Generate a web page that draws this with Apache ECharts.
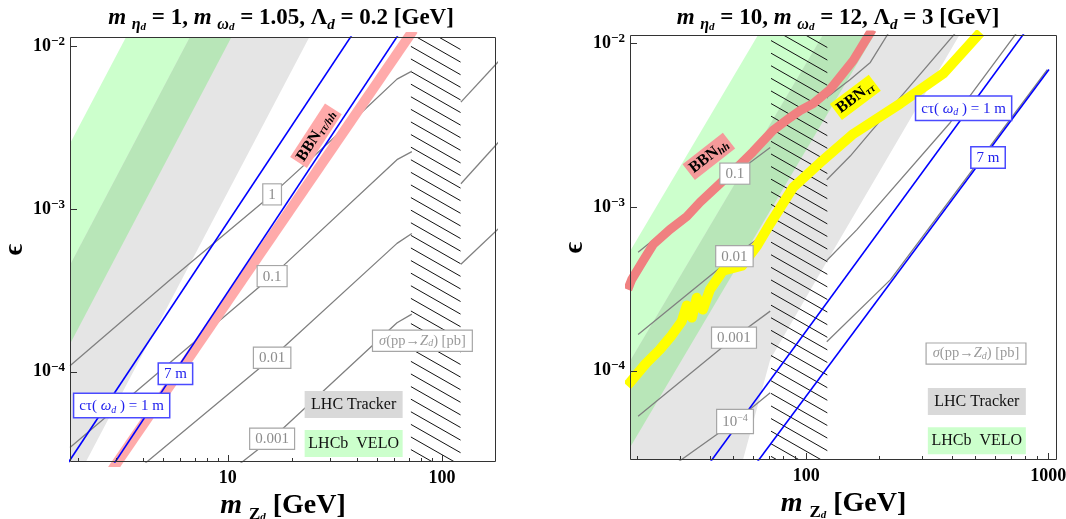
<!DOCTYPE html>
<html><head><meta charset="utf-8">
<script src="https://cdn.jsdelivr.net/npm/echarts@6/dist/echarts.min.js"></script>
<style>html,body{margin:0;padding:0;background:#fff}#c{width:1066px;height:519px}</style>
</head><body><div id="c"></div>
<script>
// ================= DATA =================
// axis ticks
const xTicksMajorL = [10, 100];
const xTicksMinorL = [2,3,4,5,6,7,8,9,20,30,40,50,60,70,80,90];
const xTicksMajorR = [100, 1000];
const xTicksMinorR = [20,30,40,50,60,70,80,90,200,300,400,500,600,700,800,900];
const yTicksMajor = [1e-4, 1e-3, 1e-2];

// Left panel (m_eta=1, m_omega=1.05, Lambda=0.2): band edges [m_Zd, eps]
const veloLeftL    = [[0.200,1e-5],[7.98,0.1]];
const veloRightL   = [[0.622,1e-5],[24.8,0.1]];
const trackerLeftL = [[0.398,1e-5],[15.85,0.1]];
const trackerRightL= [[1.439,1e-5],[57.3,0.1]];
// Right panel (m_eta=10, m_omega=12, Lambda=3)
const veloLeftR    = [[3.80,1e-5],[151.4,0.1]];
const veloRightR   = [[11.48,1e-5],[457,0.1]];
const trackerLeftR = [[7.05,1e-5],[280.5,0.1]];
const trackerRightR= [[50.8,2.16e-5],[54.5,2.77e-5],[71.0,1.17e-4],[121,4.58e-4],[1019,0.1]];
// Z-pole excluded window (hatched)
const zPoleWindow = [71.5, 122.5];

// sigma(pp->Zd) contours [pb]; null = gap across Z window
const sig1L    = [[1.83,1.09e-4],[5.36,3.66e-4],[16.1,1.23e-3],[41.4,3.84e-3],[61.7,6.28e-3],[72.4,7.03e-3],null,[122.7,4.54e-3],[187,8.26e-3]];
const sig01L   = [[1.83,3.43e-5],[16.1,3.87e-4],[61.7,2.01e-3],[72.4,2.25e-3],null,[122.7,1.43e-3],[187,2.64e-3]];
const sig001L  = [[3.75,2.48e-5],[16.1,1.22e-4],[61.7,6.15e-4],[72.4,7.08e-4],null,[122.7,4.58e-4],[187,7.74e-4]];
const sig0001L = [[10.4,2.48e-5],[16.1,3.89e-5],[61.7,2.0e-4],[72.4,2.26e-4]];
const sig01R   = [[20.2,5.30e-4],[50.8,1.60e-3],[71.0,2.31e-3],null,[121.6,4.68e-3],[152,6.03e-3],[184,7.66e-3],[222,1.2e-2]];
const sig001R  = [[20.2,1.66e-4],[50.8,5.05e-4],[71.0,7.28e-4],null,[121.6,1.47e-3],[152,2.05e-3],[184,2.86e-3],[426,1.22e-2]];
const sig0001R = [[20.2,5.25e-5],[50.3,1.59e-4],[71.0,2.31e-4],null,[121.6,4.71e-4],[162,7.28e-4],[394,3.29e-3],[759,1.22e-2]];
const sig1e4R  = [[20.2,1.85e-5],[50.8,4.88e-5],[71.0,7.31e-5],null,[121.6,1.50e-4],[223,3.60e-4],[991,6.93e-3]];

// c tau(omega_d) lines
const ctau1mL = [[1.71,2.51e-5],[39.4,1.26e-2]];
const ctau7mL = [[2.82,2.51e-5],[64.8,1.26e-2]];
const ctau1mR = [[38.3,2.51e-5],[830,1.26e-2]];
const ctau7mR = [[59.8,2.51e-5],[1007,6.93e-3]];

// BBN bounds
const bbnL  = [[2.87,2.48e-5],[73.6,1.26e-2]];
const bbnHH = [[18.3,3.13e-4],[19.0,3.60e-4],[21.1,4.65e-4],[23.3,5.90e-4],[27.3,7.28e-4],[32.1,8.75e-4],[36.4,1.07e-3],[44.0,1.39e-3],[53.3,1.82e-3],[60.3,2.18e-3],[72.9,2.94e-3],[85.9,3.53e-3],[94.4,3.89e-3],[106.9,4.30e-3],[125.6,5.24e-3],[156.4,7.87e-3],[187.5,1.22e-2]];
const bbnTT = [[18.2,8.09e-5],[18.7,8.45e-5],[21.7,1.10e-4],[24.8,1.34e-4],[27.8,1.64e-4],[30.6,2.0e-4],[32.1,2.50e-4],[33.7,2.11e-4],[35.3,2.79e-4],[37.4,2.36e-4],[40.0,3.13e-4],[45.3,4.09e-4],[54.3,4.38e-4],[62.7,5.82e-4],[71.0,7.93e-4],[88.3,1.32e-3],[114.3,1.87e-3],[155,2.77e-3],[245,4.30e-3],[369,6.56e-3],[525,1.17e-2]];

// annotation anchors [m_Zd, eps]
const contourLabelsL = [['1',[16.1,1.23e-3]],['0.1',[16.1,3.87e-4]],['0.01',[16.1,1.22e-4]],['0.001',[16.1,3.88e-5]]];
const contourLabelsR = [['0.1',[50.7,1.60e-3]],['0.01',[50.5,5.01e-4]],['0.001',[50.3,1.59e-4]],['1e-4',[50.8,4.88e-5]]];
const anchorsL = {ctau1:[3.19,6.2e-5], ctau7:[5.69,9.72e-5], sigma:[81.1,1.55e-4], tracker:[38.7,6.3e-5], velo:[38.7,3.63e-5], bbn:[25.8,2.82e-3]};
const anchorsR = {ctau1:[447,4.02e-3], ctau7:[564,2.01e-3], sigma:[503,1.27e-4], tracker:[507,6.48e-5], velo:[507,3.73e-5], bbnHH:[39.6,2.04e-3], bbnTT:[159.6,4.68e-3]};

// ================= STYLE / BUILD =================
const FONT = "'Liberation Serif','DejaVu Serif',serif";
const C_VELO = '#ccffcc', C_TRK = '#e5e5e5', C_OVL = '#b8e6b8';
const C_CONT = '#808080', C_BLUE = '#0000ff';

function isDecade(v){ const l = Math.log10(v); return Math.abs(l - Math.round(l)) < 1e-6; }

function xAxisOpt(gi, min, max){
  return {type:'log', logBase:10, gridIndex:gi, min, max,
    axisLine:{show:false}, axisTick:{show:false}, splitLine:{show:false},
    axisLabel:{margin:7, formatter: v => isDecade(v) ? String(Math.round(v)) : '',
      fontFamily:FONT, fontWeight:'bold', fontSize:18, color:'#000', hideOverlap:false},
    name:'{m|m }{z|Z}{d|d}{n| [GeV]}', nameLocation:'middle', nameGap:25,
    nameTextStyle:{fontFamily:FONT, color:'#000', rich:{
      m:{fontFamily:FONT, fontSize:28, fontWeight:'bold', fontStyle:'italic', lineHeight:34, color:'#000'},
      n:{fontFamily:FONT, fontSize:28, fontWeight:'bold', lineHeight:34, color:'#000'},
      z:{fontFamily:FONT, fontSize:17, fontWeight:'bold', lineHeight:16, verticalAlign:'bottom', color:'#000'},
      d:{fontFamily:FONT, fontSize:11, fontWeight:'bold', fontStyle:'italic', lineHeight:7, verticalAlign:'bottom', color:'#000'}
    }}};
}
function yAxisOpt(gi, min, max){
  return {type:'log', logBase:10, gridIndex:gi, min, max,
    axisLine:{show:false}, axisTick:{show:false}, splitLine:{show:false},
    axisLabel:{margin:5, formatter: v => isDecade(v) ? '{b|10}{s|\u2212' + (-Math.round(Math.log10(v))) + '}' : '',
      hideOverlap:false,
      rich:{ b:{fontFamily:FONT, fontWeight:'bold', fontSize:18, lineHeight:22, color:'#000'},
             s:{fontFamily:FONT, fontWeight:'bold', fontSize:13, lineHeight:10, verticalAlign:'top', color:'#000'} }},
    name:'\u03f5', nameLocation:'middle', nameRotate:90, nameGap:41,
    nameTextStyle:{fontFamily:FONT, fontSize:27, fontWeight:'bold', color:'#000'}};
}

function clipRect(cs){ return {type:'rect', shape:{x:cs.x, y:cs.y, width:cs.width, height:cs.height}}; }

function bandSeries(gi, leftEdge, rightEdge, color, z){
  return {type:'custom', xAxisIndex:gi, yAxisIndex:gi, z, silent:true, clip:true,
    data: leftEdge.concat(rightEdge),
    renderItem(params, api){
      if (params.dataIndex !== 0) return null;
      const pts = leftEdge.concat(rightEdge.slice().reverse()).map(p => api.coord(p));
      return {type:'polygon', shape:{points:pts}, style:{fill:color, stroke:null}, clipPath:clipRect(params.coordSys)};
    }};
}
function hatchSeries(gi){
  return {type:'custom', xAxisIndex:gi, yAxisIndex:gi, z:3, silent:true, data:[[zPoleWindow[0], 1e-3]],
    renderItem(params, api){
      const cs = params.coordSys;
      const xa = api.coord([zPoleWindow[0], 1e-3])[0], xb = api.coord([zPoleWindow[1], 1e-3])[0];
      const w = xb - xa, drop = w * 0.57, step = 12.6, kids = [];
      for (let y = cs.y - drop; y < cs.y + cs.height + step; y += step)
        kids.push({type:'line', shape:{x1:xa, y1:y, x2:xb, y2:y + drop}, style:{stroke:'#111', lineWidth:1}});
      return {type:'group', children:kids, clipPath:{type:'rect', shape:{x:xa, y:cs.y, width:w, height:cs.height}}};
    }};
}
function frameSeries(gi, xMaj, xMin){
  return {type:'custom', xAxisIndex:gi, yAxisIndex:gi, z:12, silent:true, data:[[xMaj[0], 1e-3]],
    renderItem(params, api){
      const cs = params.coordSys, b = cs.y + cs.height, kids = [];
      const seg = (x1,y1,x2,y2) => ({type:'line', shape:{x1,y1,x2,y2}, style:{stroke:'#333', lineWidth:1}});
      xMaj.forEach(v => { const x = Math.round(api.coord([v, 1e-3])[0]) + 0.5; kids.push(seg(x, b, x, b - 7)); });
      xMin.forEach(v => { const x = Math.round(api.coord([v, 1e-3])[0]) + 0.5; kids.push(seg(x, b, x, b - 4)); });
      yTicksMajor.forEach(v => { const y = Math.round(api.coord([xMaj[0], v])[1]) + 0.5; kids.push(seg(cs.x, y, cs.x + 7, y)); });
      kids.push({type:'rect', shape:{x:cs.x + 0.5, y:cs.y + 0.5, width:cs.width - 1, height:cs.height - 1},
        style:{fill:'none', stroke:'#333', lineWidth:1}});
      return {type:'group', children:kids};
    }};
}
function splitGaps(arr){
  const out = [[]];
  arr.forEach(p => { if (p === null) out.push([]); else out[out.length - 1].push(p); });
  return out.filter(s => s.length > 1);
}
function lineSeries(gi, data, color, width, z){
  return {type:'line', xAxisIndex:gi, yAxisIndex:gi, data, symbol:'none', silent:true, z, clip:true,
    lineStyle:{color, width, cap:'butt', join:'round'}};
}
function contourSeries(gi, arr){ return splitGaps(arr).map(s => lineSeries(gi, s, C_CONT, 1.3, 5)); }

// label presets (zrender text styles)
const gray = '#8c8c8c';
const R = (o) => Object.assign({fontFamily:FONT}, o);
const ST = {
  contour:{fill:gray, fontFamily:FONT, fontSize:15, backgroundColor:'#fff', borderColor:'#a6a6a6', borderWidth:1.2, padding:[3,5,2,5],
    rich:{ g:R({fill:gray, fontSize:15, lineHeight:18}), gs:R({fill:gray, fontSize:10, lineHeight:9, verticalAlign:'top'}) }},
  blue:{fill:'#2020ee', fontFamily:FONT, fontSize:15, backgroundColor:'#fff', borderColor:'#4a4aff', borderWidth:1.5, padding:[3,5,2,5],
    rich:{ t:R({fill:'#2020ee', fontSize:15, lineHeight:18}), i:R({fill:'#2020ee', fontSize:15, fontStyle:'italic', lineHeight:18}),
           sub:R({fill:'#2020ee', fontSize:10, fontStyle:'italic', lineHeight:7, verticalAlign:'bottom'}) }},
  sigma:{fill:'#9a9a9a', fontFamily:FONT, fontSize:14, backgroundColor:'#fff', borderColor:'#a6a6a6', borderWidth:1.2, padding:[2,6,2,6],
    rich:{ t:R({fill:'#9a9a9a', fontSize:14.5, lineHeight:16}), i:R({fill:'#9a9a9a', fontSize:14.5, fontStyle:'italic', lineHeight:16}),
           sub:R({fill:'#9a9a9a', fontSize:10, fontStyle:'italic', lineHeight:6, verticalAlign:'bottom'}) }},
  tracker:{fill:'#111', fontFamily:FONT, fontSize:16, backgroundColor:'#d9d9d9', padding:[6,0,5,0], width:98},
  velo:{fill:'#111', fontFamily:FONT, fontSize:16, backgroundColor:'#ccffcc', padding:[6,0,5,0], width:98},
  bbn:{fill:'#000', fontFamily:FONT, padding:[1,3,1,3],
    rich:{ bb:R({fill:'#000', fontSize:16, fontWeight:'bold', lineHeight:18}),
           bs:R({fill:'#000', fontSize:11, fontWeight:'bold', fontStyle:'italic', lineHeight:7, verticalAlign:'bottom'}) }}
};
function lbl(pos, text, kind, extra, rotate){ return {pos, text, kind, extra:extra || {}, rotate:rotate || 0}; }
function labelSeries(gi, items){
  return {type:'custom', xAxisIndex:gi, yAxisIndex:gi, zlevel:1, z:30, silent:true, clip:false,
    data: items.map(it => it.pos),
    renderItem(params, api){
      const it = items[params.dataIndex];
      const p = api.coord(it.pos);
      return {type:'text', x:p[0], y:p[1], rotation:it.rotate * Math.PI / 180,
        style:Object.assign({text:it.text, align:'center', verticalAlign:'middle'}, ST[it.kind], it.extra)};
    }};
}
const contourText = t => t === '1e-4' ? '{g|10}{gs|\u22124}' : t;

const ctauText = '{t|c\u03c4( }{i|\u03c9}{sub|d}{t| ) = 1 m}';
const sigmaText = '{i|\u03c3}{t|(pp\u2192}{i|Z}{sub|d}{t|) [pb]}';

const labelsL = contourLabelsL.map(([t,p]) => lbl(p, contourText(t), 'contour')).concat([
  lbl(anchorsL.ctau1, ctauText, 'blue'),
  lbl(anchorsL.ctau7, '7 m', 'blue'),
  lbl(anchorsL.sigma, sigmaText, 'sigma'),
  lbl(anchorsL.tracker, 'LHC Tracker', 'tracker'),
  lbl(anchorsL.velo, 'LHCb  VELO', 'velo'),
  lbl(anchorsL.bbn, '{bb|BBN}{bs|\u03c4\u03c4/hh}', 'bbn', {backgroundColor:'#ffaaaa'}, 57)
]);
const labelsR = contourLabelsR.map(([t,p]) => lbl(p, contourText(t), 'contour')).concat([
  lbl(anchorsR.ctau1, ctauText, 'blue'),
  lbl(anchorsR.ctau7, '7 m', 'blue'),
  lbl(anchorsR.sigma, sigmaText, 'sigma'),
  lbl(anchorsR.tracker, 'LHC Tracker', 'tracker'),
  lbl(anchorsR.velo, 'LHCb  VELO', 'velo'),
  lbl(anchorsR.bbnHH, '{bb|BBN}{bs|hh}', 'bbn', {backgroundColor:'#f49a9a'}, 38),
  lbl(anchorsR.bbnTT, '{bb|BBN}{bs|\u03c4\u03c4}', 'bbn', {backgroundColor:'#ffff00'}, 37)
]);

const titleRich = {
  m:R({fontSize:23, fontWeight:'bold', fontStyle:'italic', lineHeight:30, fill:'#000'}),
  n:R({fontSize:23, fontWeight:'bold', lineHeight:30, fill:'#000'}),
  s1:R({fontSize:16, fontWeight:'bold', fontStyle:'italic', lineHeight:16, verticalAlign:'bottom', fill:'#000'}),
  s2:R({fontSize:11, fontWeight:'bold', fontStyle:'italic', lineHeight:7, verticalAlign:'bottom', fill:'#000'}),
  sd:R({fontSize:15, fontWeight:'bold', fontStyle:'italic', lineHeight:12, verticalAlign:'bottom', fill:'#000'})
};
const titleL = '{m|m }{s1|\u03b7}{s2|d}{n| = 1, }{m|m }{s1|\u03c9}{s2|d}{n| = 1.05, \u039b}{sd|d}{n| = 0.2 [GeV]}';
const titleR = '{m|m }{s1|\u03b7}{s2|d}{n| = 10, }{m|m }{s1|\u03c9}{s2|d}{n| = 12, \u039b}{sd|d}{n| = 3 [GeV]}';

const series = [].concat(
  [bandSeries(0, veloLeftL, veloRightL, C_VELO, 1), bandSeries(0, trackerLeftL, trackerRightL, C_TRK, 1),
   bandSeries(0, trackerLeftL, veloRightL, C_OVL, 2),
   bandSeries(1, veloLeftR, veloRightR, C_VELO, 1), bandSeries(1, trackerLeftR, trackerRightR, C_TRK, 1),
   bandSeries(1, trackerLeftR, veloRightR, C_OVL, 2),
   hatchSeries(0), hatchSeries(1)],
  contourSeries(0, sig1L), contourSeries(0, sig01L), contourSeries(0, sig001L), contourSeries(0, sig0001L),
  contourSeries(1, sig01R), contourSeries(1, sig001R), contourSeries(1, sig0001R), contourSeries(1, sig1e4R),
  [lineSeries(0, bbnL, '#ffaaaa', 10, 6),
   lineSeries(1, bbnHH, '#f08080', 9, 6),
   lineSeries(1, bbnTT, '#ffff00', 10, 6),
   lineSeries(0, ctau1mL, C_BLUE, 1.6, 7), lineSeries(0, ctau7mL, C_BLUE, 1.6, 7),
   lineSeries(1, ctau1mR, C_BLUE, 1.6, 7), lineSeries(1, ctau7mR, C_BLUE, 1.6, 7),
   frameSeries(0, xTicksMajorL, xTicksMinorL), frameSeries(1, xTicksMajorR, xTicksMinorR),
   labelSeries(0, labelsL), labelSeries(1, labelsR)]
);

const chart = echarts.init(document.getElementById('c'), null, {renderer:'canvas'});
chart.setOption({
  animation:false,
  backgroundColor:'#fff',
  grid:[{left:70, top:37, width:426, height:425, outerBoundsMode:'none', containLabel:false},
        {left:630, top:35, width:427, height:425, outerBoundsMode:'none', containLabel:false}],
  xAxis:[xAxisOpt(0, 1.83, 179), xAxisOpt(1, 18.7, 1087)],
  yAxis:[yAxisOpt(0, 2.79e-5, 1.14e-2), yAxisOpt(1, 2.84e-5, 1.127e-2)],
  graphic:[
    {type:'text', x:281, y:18, style:{text:titleL, rich:titleRich, align:'center', verticalAlign:'middle', fontFamily:FONT}},
    {type:'text', x:838, y:18, style:{text:titleR, rich:titleRich, align:'center', verticalAlign:'middle', fontFamily:FONT}}
  ],
  series
});
</script>
</body></html>
